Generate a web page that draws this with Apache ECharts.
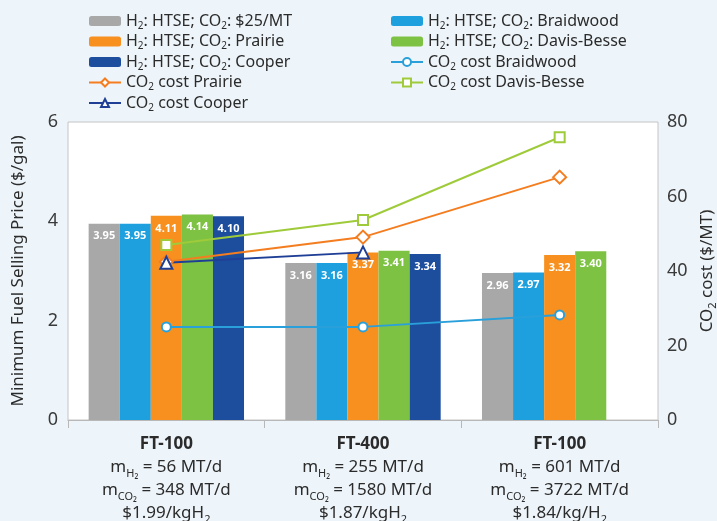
<!DOCTYPE html>
<html>
<head>
<meta charset="utf-8">
<script src="https://cdn.jsdelivr.net/npm/echarts@6/dist/echarts.min.js"></script>
<style>
html,body{margin:0;padding:0;background:#eef5fa;}
#c{width:717px;height:521px;}
</style>
</head>
<body>
<div id="c"></div>
<script>
// ---- data ----
var categories = ['FT-100', 'FT-400', 'FT-100'];
var mH2 = ['56', '255', '601'];
var mCO2 = ['348', '1580', '3722'];
var priceText = ['$1.99/kgH', '$1.87/kgH', '$1.84/kg/H'];

var barNames = ['H₂: HTSE; CO₂: $25/MT', 'H₂: HTSE; CO₂: Braidwood', 'H₂: HTSE; CO₂: Prairie', 'H₂: HTSE; CO₂: Davis-Besse', 'H₂: HTSE; CO₂: Cooper'];
var bar25 = [3.95, 3.16, 2.96];
var barBraidwood = [3.95, 3.16, 2.97];
var barPrairie = [4.11, 3.37, 3.32];
var barDavis = [4.14, 3.41, 3.40];
var barCooper = [4.10, 3.34, null];

var lineNames = ['CO₂ cost Braidwood', 'CO₂ cost Prairie', 'CO₂ cost Davis-Besse', 'CO₂ cost Cooper'];
var costBraidwood = [25, 25, 28.2];
var costPrairie = [42.5, 49.1, 65.2];
var costDavis = [47.0, 53.7, 75.9];
var costCooper = [42.2, 45.0, null];

var leftTicks = [0, 2, 4, 6];
var rightTicks = [0, 20, 40, 60, 80];

// ---- helpers ----
function sub2(name) {
  var parts = name.split('₂');
  var out = '';
  for (var i = 0; i < parts.length; i++) {
    if (parts[i].length) out += '{n|' + parts[i] + '}';
    if (i < parts.length - 1) out += '{s|2}';
  }
  return out;
}

var FONT = '"Noto Sans", "DejaVu Sans", sans-serif';
var TXT = '#2b2b2b';

var legendRich = {
  n: {fontSize: 16, lineHeight: 20, color: TXT, fontFamily: FONT},
  s: {fontSize: 10, lineHeight: 12, color: TXT, fontFamily: FONT, verticalAlign: 'bottom'}
};

var barColors = ['#a8a8a8', '#1ea0df', '#f7901e', '#7dc242', '#1d4e9e'];
var barData = [bar25, barBraidwood, barPrairie, barDavis, barCooper];

var series = [];
for (var i = 0; i < barNames.length; i++) {
  series.push({
    name: barNames[i],
    type: 'bar',
    yAxisIndex: 0,
    data: barData[i],
    barGap: '0%',
    barCategoryGap: '21%',
    itemStyle: {color: barColors[i]},
    label: {
      show: true,
      position: 'insideTop',
      distance: 7,
      color: '#ffffff',
      fontSize: 11,
      fontWeight: 'bold',
      fontFamily: FONT,
      formatter: function (p) { return p.value == null ? '' : p.value.toFixed(2); }
    },
    z: 2
  });
}

var lineDefs = [
  {name: lineNames[0], data: costBraidwood, color: '#2aa0da', symbol: 'circle', size: 9},
  {name: lineNames[2], data: costDavis, color: '#9fcb3b', symbol: 'rect', size: 10},
  {name: lineNames[1], data: costPrairie, color: '#f47d20', symbol: 'diamond', size: 13},
  {name: lineNames[3], data: costCooper, color: '#1f3f96', symbol: 'triangle', size: 12}
];
lineDefs.forEach(function (d) {
  series.push({
    name: d.name,
    type: 'line',
    yAxisIndex: 1,
    data: d.data,
    symbol: d.symbol,
    symbolSize: d.size,
    showAllSymbol: true,
    connectNulls: false,
    lineStyle: {color: d.color, width: 2},
    itemStyle: {color: '#ffffff', borderColor: d.color, borderWidth: 2},
    z: 5
  });
});

var xRich = {
  b: {fontSize: 17, fontWeight: 'bold', lineHeight: 23, color: TXT, fontFamily: FONT},
  n: {fontSize: 17, lineHeight: 23, color: TXT, fontFamily: FONT},
  s: {fontSize: 11, lineHeight: 12, color: TXT, fontFamily: FONT, verticalAlign: 'bottom'}
};

var chart = echarts.init(document.getElementById('c'), null, {renderer: 'canvas'});
chart.setOption({
  backgroundColor: '#eef5fa',
  animation: false,
  textStyle: {fontFamily: FONT},
  grid: {
    left: 68, right: 59, top: 122, bottom: 101,
    outerBoundsMode: 'none',
    containLabel: false,
    show: true, backgroundColor: '#ffffff', borderColor: '#c4c4c4', borderWidth: 1
  },
  legend: [
    {
      orient: 'vertical', left: 83, top: 8, itemGap: 2.5,
      itemWidth: 32, itemHeight: 10,
      data: [barNames[0], barNames[2], barNames[4], lineNames[1], lineNames[3]],
      formatter: sub2,
      textStyle: {rich: legendRich}
    },
    {
      orient: 'vertical', left: 385, top: 8, itemGap: 2.5,
      itemWidth: 32, itemHeight: 10,
      data: [barNames[1], barNames[3], lineNames[0], lineNames[2]],
      formatter: sub2,
      textStyle: {rich: legendRich}
    }
  ],
  xAxis: {
    type: 'category',
    data: categories,
    axisLine: {show: true, lineStyle: {color: '#b8b8b8', width: 1}},
    axisTick: {show: true, length: 8, lineStyle: {color: '#b8b8b8'}},
    axisLabel: {
      interval: 0,
      margin: 13,
      formatter: function (v, idx) {
        return '{b|' + categories[idx] + '}\n' +
          '{n|m}{s|H₂}{n| = ' + mH2[idx] + ' MT/d}\n' +
          '{n|m}{s|CO₂}{n| = ' + mCO2[idx] + ' MT/d}\n' +
          '{n|' + priceText[idx] + '}{s|2}';
      },
      rich: xRich
    }
  },
  yAxis: [
    {
      type: 'value',
      min: leftTicks[0], max: leftTicks[leftTicks.length - 1], interval: 2,
      name: 'Minimum Fuel Selling Price ($/gal)',
      nameLocation: 'middle',
      nameGap: 41,
      nameRotate: 90,
      nameTextStyle: {fontSize: 17, color: TXT, fontFamily: FONT},
      axisLine: {show: false},
      axisTick: {show: false},
      splitLine: {show: false},
      axisLabel: {fontSize: 18, color: '#3a3a3a', margin: 10, fontFamily: FONT}
    },
    {
      type: 'value',
      position: 'right',
      min: rightTicks[0], max: rightTicks[rightTicks.length - 1], interval: 20,
      name: '{n|CO}{s|2}{n| cost ($/MT)}',
      nameLocation: 'middle',
      nameGap: 38,
      nameRotate: 90,
      nameTextStyle: {
        fontSize: 17, color: TXT, fontFamily: FONT,
        rich: {
          n: {fontSize: 17, lineHeight: 22, color: TXT, fontFamily: FONT},
          s: {fontSize: 11, lineHeight: 12, color: TXT, fontFamily: FONT, verticalAlign: 'bottom'}
        }
      },
      axisLine: {show: false},
      axisTick: {show: false},
      splitLine: {show: false},
      axisLabel: {fontSize: 18, color: '#3a3a3a', margin: 9, fontFamily: FONT}
    }
  ],
  series: series
});
</script>
</body>
</html>
